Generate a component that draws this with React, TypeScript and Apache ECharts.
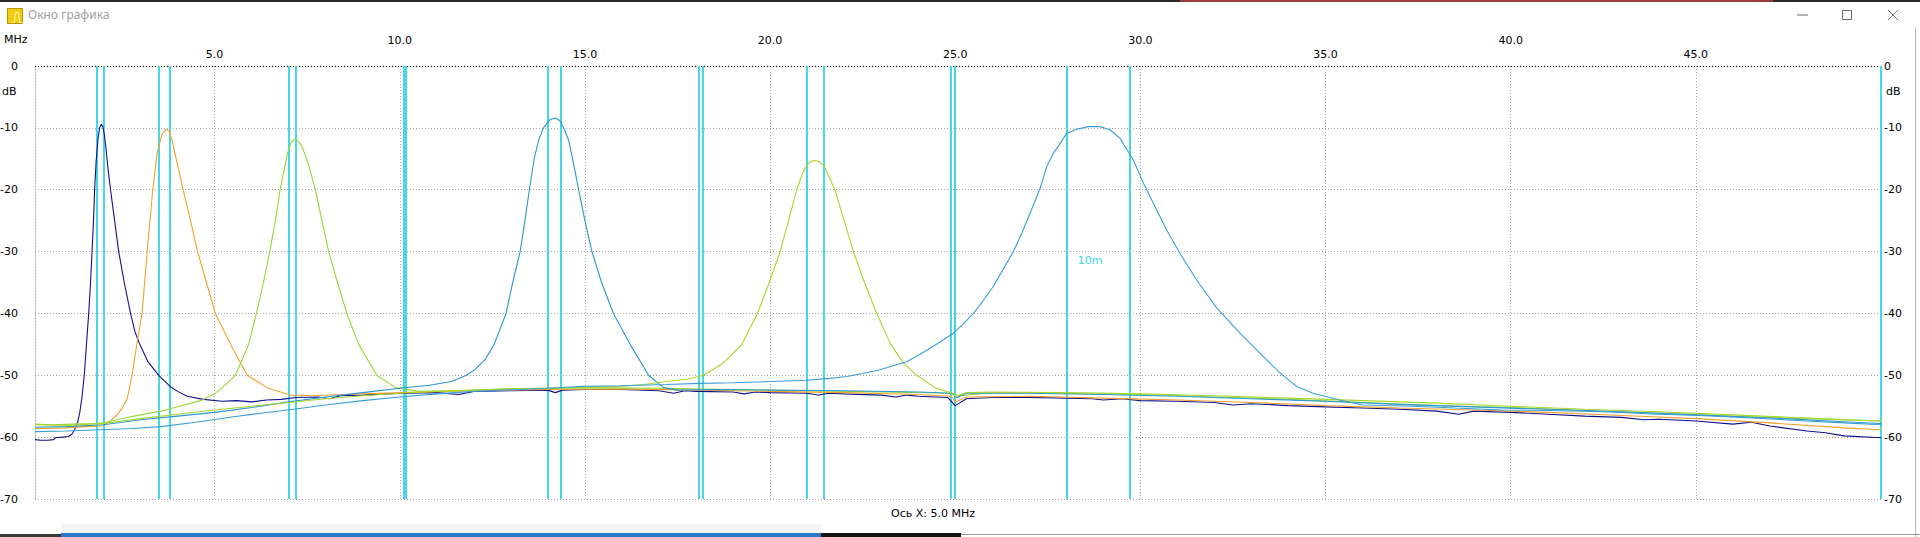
import React, { useEffect, useRef } from "react";
import * as echarts from "echarts";

const X_MIN = 0.15;
const X_MAX = 50;
const Y_MIN = -70;
const Y_MAX = 0;
const Y_STEP = 10;

const xGridValues = [5, 10, 15, 20, 25, 30, 35, 40, 45];
const xTickLabels = ["5.0", "10.0", "15.0", "20.0", "25.0", "30.0", "35.0", "40.0", "45.0"];

// amateur band edges (MHz)
const bandEdges = [1.81, 2.0, 3.5, 3.8, 7.0, 7.2, 10.1, 10.15, 14.0, 14.35, 18.068, 18.168, 21.0, 21.45, 24.89, 24.99, 28.0, 29.7, 50];
const bandLabelText = "10m";
const bandLabelPos = [28.64, -31.5];

const curve160 = [
  [0.15, -60.4], [0.3, -60.5], [0.5, -60.5], [0.65, -60.4], [0.7, -60.1], [0.9, -60.0], [1.05, -59.9], [1.15, -59.5],
  [1.22, -58.8], [1.3, -57.6], [1.36, -56], [1.42, -53.5], [1.48, -50], [1.54, -45], [1.6, -40], [1.65, -35],
  [1.69, -30], [1.73, -25], [1.76, -20], [1.8, -15.5], [1.85, -11.8], [1.9, -9.9], [1.94, -9.4], [1.98, -9.8],
  [2.02, -11], [2.07, -13.5], [2.12, -16.5], [2.19, -20], [2.3, -25], [2.41, -30], [2.56, -35], [2.73, -40],
  [2.85, -43], [2.98, -45], [3.2, -47.8], [3.49, -50], [3.8, -51.8], [4.0, -52.6], [4.26, -53.4], [4.7, -53.9],
  [5.2, -54.2], [5.6, -54.1], [6.0, -54.3], [6.4, -54.0], [6.8, -53.9], [7.2, -53.6], [7.8, -53.5], [8.1, -53.8],
  [8.4, -53.3], [9.0, -53.2], [9.6, -53.0], [10.2, -52.9], [11, -52.8], [11.6, -53.1], [12, -52.6], [13, -52.5],
  [14, -52.4], [14.2, -52.8], [14.4, -52.4], [15, -52.3], [16, -52.3], [17, -52.5], [17.4, -52.9], [17.7, -52.5],
  [18, -52.6], [19, -52.7], [19.3, -53.0], [19.6, -52.7], [20, -52.8], [21, -52.9], [21.3, -53.2], [21.6, -52.9],
  [22, -53.0], [23, -53.2], [23.4, -53.5], [23.7, -53.2], [24, -53.4], [24.8, -53.6], [25.0, -54.9], [25.3, -53.8],
  [26, -53.6], [27, -53.6], [28, -53.7], [28.7, -53.8], [29, -54.0], [29.5, -53.8], [30, -54.1], [31, -54.2],
  [32, -54.4], [32.5, -54.8], [33, -54.6], [34, -54.9], [35, -55.1], [36, -55.3], [37, -55.5], [38, -55.8],
  [38.6, -56.3], [39, -55.8], [40, -56.0], [41, -56.3], [42, -56.6], [43, -56.8], [43.6, -57.2], [44, -57.1],
  [45, -57.4], [46, -57.9], [46.5, -57.6], [47, -58.2], [48, -59.0], [48.5, -59.3], [49, -59.8], [50, -60.1],
];

const curve80 = [
  [0.15, -58.6], [0.5, -58.6], [1.0, -58.5], [1.5, -58.3], [1.9, -58.2], [2.05, -57.9], [2.2, -57.3], [2.35, -56.5],
  [2.5, -55.3], [2.64, -53.8], [2.77, -50], [2.9, -45], [3.04, -40], [3.18, -30], [3.33, -20], [3.45, -14],
  [3.58, -11], [3.7, -10.2], [3.78, -10.6], [3.85, -12], [4.0, -16], [4.15, -20], [4.35, -25], [4.54, -30],
  [4.78, -35], [5.02, -40], [5.43, -45], [5.88, -50], [6.42, -52], [7.04, -53.2], [7.6, -53.3], [8.5, -53.1],
  [10, -52.8], [12, -52.5], [14, -52.3], [16, -52.2], [18, -52.4], [20, -52.6], [22, -52.8], [24, -53.1],
  [24.9, -53.4], [25.0, -54.3], [25.3, -53.5], [27, -53.4], [29, -53.7], [31, -54.0], [33, -54.4], [35, -54.9],
  [37, -55.3], [39, -55.6], [41, -56.0], [43, -56.5], [45, -57.0], [47, -57.7], [49, -58.5], [50, -58.8],
];

const curve40 = [
  [0.15, -57.9], [0.6, -58.0], [1.2, -57.9], [1.8, -57.8], [2.0, -57.7], [2.5, -57.0], [3.0, -56.4], [3.54, -55.8],
  [4.0, -55.1], [4.62, -54.1], [5.0, -53.0], [5.3, -51.5], [5.56, -50], [5.92, -45], [6.13, -40], [6.32, -35],
  [6.49, -30], [6.64, -25], [6.77, -20], [6.97, -14], [7.08, -12.2], [7.18, -11.8], [7.28, -12.3], [7.36, -13],
  [7.54, -16], [7.72, -20], [7.9, -25], [8.08, -30], [8.32, -35], [8.57, -40], [8.89, -45], [9.38, -50],
  [9.88, -52], [10.5, -52.6], [11.5, -52.5], [13, -52.2], [15, -52.0], [17, -52.1], [19, -52.3], [21, -52.5],
  [23, -52.7], [24.9, -52.9], [25.1, -53.3], [26, -52.8], [28, -52.9], [30, -53.1], [32, -53.5], [34, -53.9],
  [36, -54.4], [38, -54.9], [40, -55.2], [42, -55.7], [44, -56.1], [46, -56.6], [48, -57.0], [50, -57.4],
];

const curve20 = [
  [0.15, -58.4], [1.0, -58.3], [2.0, -58.0], [3.0, -57.2], [4.0, -56.6], [5.0, -56.0], [6.0, -55.2], [7.0, -54.3],
  [8.0, -53.5], [9.0, -52.8], [10.0, -52.1], [10.8, -51.6], [11.4, -51.0], [11.8, -50], [12.04, -49], [12.3, -47.5],
  [12.55, -45], [12.87, -40], [13.05, -35], [13.25, -30], [13.38, -25], [13.5, -20], [13.63, -15], [13.75, -12],
  [13.88, -10], [14.05, -8.7], [14.2, -8.4], [14.32, -8.8], [14.45, -10.3], [14.56, -12], [14.7, -16], [14.83, -20],
  [15.0, -25], [15.19, -30], [15.45, -35], [15.77, -40], [16.22, -45], [16.72, -50], [17.12, -52], [17.5, -52.4],
  [18.5, -52.3], [20, -52.4], [22, -52.5], [24, -52.7], [24.9, -52.9], [25.05, -53.6], [25.3, -52.9], [27, -52.9],
  [29, -53.1], [31, -53.4], [33, -53.8], [35, -54.2], [37, -54.7], [39, -55.1], [41, -55.5], [43, -55.9],
  [45, -56.4], [47, -56.9], [49, -57.5], [50, -57.8],
];

const curve15 = [
  [0.15, -58.0], [1.0, -58.1], [2.0, -57.8], [3.0, -57.0], [4.0, -56.3], [5.0, -55.6], [6.0, -55.0], [7.0, -54.4],
  [8.0, -53.8], [9.0, -53.3], [10.0, -52.9], [11, -52.6], [12, -52.4], [13, -52.2], [14, -52.1], [15, -52.0],
  [15.9, -51.8], [16.6, -51.5], [17.2, -51.0], [17.8, -50.6], [18.2, -50], [18.74, -48], [19.24, -45], [19.66, -40],
  [19.98, -35], [20.27, -30], [20.5, -25], [20.72, -20], [20.9, -17], [21.05, -15.6], [21.17, -15.3], [21.3, -15.4],
  [21.44, -16], [21.6, -18], [21.75, -20], [22.0, -25], [22.25, -30], [22.55, -35], [22.88, -40], [23.26, -45],
  [23.6, -48], [23.96, -50], [24.45, -52], [24.86, -52.8], [25.02, -53.4], [25.3, -52.8], [26, -52.7], [28, -52.8],
  [30, -53.0], [32, -53.3], [34, -53.7], [36, -54.1], [38, -54.5], [40, -55.0], [42, -55.5], [44, -55.9],
  [46, -56.4], [48, -56.9], [50, -57.4],
];

const curve10 = [
  [0.15, -59.1], [1.0, -59.0], [1.92, -58.8], [2.8, -58.6], [3.54, -58.3], [4.5, -57.6], [5.51, -56.7], [6.3, -56.1],
  [7.13, -55.5], [8.0, -54.8], [9.0, -54.1], [10.0, -53.5], [11, -53.0], [12, -52.6], [13.16, -52.3], [14, -52.1],
  [14.96, -51.8], [16, -51.7], [17.2, -51.5], [18.11, -51.3], [19.01, -51.2], [20, -51.0], [21, -50.8], [21.62, -50.5],
  [22.07, -50.2], [22.5, -49.7], [22.97, -49.1], [23.3, -48.5], [23.69, -47.8], [24.05, -46.6], [24.41, -45.3], [24.95, -43.2],
  [25.2, -41.8], [25.49, -40], [25.75, -38], [26.03, -35.6], [26.3, -32.8], [26.57, -30], [26.8, -27], [27.02, -23.8],
  [27.29, -19.8], [27.47, -16.3], [27.64, -14.2], [27.78, -13], [28.01, -10.9], [28.3, -10.2], [28.6, -9.8], [28.9, -9.8],
  [29.18, -10.3], [29.45, -11.7], [29.81, -15.2], [30.08, -18.9], [30.35, -22.2], [30.71, -26.5], [31.07, -30.3], [31.52, -34.6],
  [32.06, -39.1], [32.69, -43.2], [33.32, -47], [33.77, -49.6], [34.22, -51.8], [34.66, -52.9], [35.38, -54], [36.01, -54.8],
  [37.36, -55], [38.5, -55.3], [39.78, -55.6], [41, -55.7], [42.5, -55.9], [44, -56.3], [45.1, -56.5], [46.5, -56.9],
  [48, -57.4], [49, -57.7], [50, -58.0],
];

const curves = [curve160, curve80, curve40, curve20, curve15, curve10];
const curveNames = ["160m", "80m", "40m", "20m", "15m", "10m"];
const curveColors = ["#10108f", "#f0a22c", "#9ad636", "#2b96d2", "#a6d82a", "#3a9fd8"];

const FONT = "DejaVu Sans";
const GRID_COLOR = "#a8a8a8";
const GRID_DASH = [1, 2];
const BAND_COLOR = "#46d8e8";

export default function App() {
  const ref = useRef<HTMLDivElement>(null);

  useEffect(() => {
    if (!ref.current) return;
    const chart = echarts.init(ref.current, null, { renderer: "svg" });

    const curveSeries = curves.map((c, i) => ({
      name: curveNames[i],
      type: "line",
      data: c,
      symbol: "none",
      showSymbol: false,
      lineStyle: { color: curveColors[i], width: 1.1 },
      itemStyle: { color: curveColors[i] },
      z: 5,
      silent: true,
      ...(i === 5
        ? {
            markPoint: {
              silent: true,
              symbol: "rect",
              symbolSize: 1,
              itemStyle: { color: "transparent" },
              data: [
                {
                  coord: bandLabelPos,
                  label: {
                    show: true,
                    position: "inside",
                    formatter: bandLabelText,
                    color: "#3ad4e6",
                    fontSize: 11,
                    fontFamily: FONT,
                  },
                },
              ],
            },
          }
        : {}),
    }));

    const gridSeries = {
      name: "grid",
      type: "line",
      data: [],
      z: 1,
      silent: true,
      markLine: {
        silent: true,
        symbol: "none",
        data: [
          ...xGridValues.map((v, i) => ({
            xAxis: v,
            lineStyle: { color: GRID_COLOR, type: GRID_DASH, width: 1 },
            label: {
              show: true,
              position: "end",
              formatter: xTickLabels[i],
              distance: i % 2 === 0 ? 6 : 20,
              color: "#000",
              fontSize: 11,
              fontFamily: FONT,
            },
          })),
          {
            yAxis: 0,
            lineStyle: { color: "#000", type: GRID_DASH, width: 1 },
            label: { show: false },
          },
        ],
      },
    };

    const bandSeries = {
      name: "bands",
      type: "line",
      data: [],
      z: 2,
      silent: true,
      markLine: {
        silent: true,
        symbol: "none",
        data: bandEdges.map((v) => ({
          xAxis: v,
          lineStyle: { color: BAND_COLOR, type: "solid", width: 2 },
          label: { show: false },
        })),
      },
    };

    const textStyle = { fill: "#000", font: `11px "${FONT}"` };

    chart.setOption({
      animation: false,
      backgroundColor: "#ffffff",
      grid: { left: 35, right: 39, top: 66, bottom: 38, containLabel: false, outerBoundsMode: "none" },
      xAxis: {
        type: "value",
        min: X_MIN,
        max: X_MAX,
        axisLine: { show: true, lineStyle: { color: GRID_COLOR, type: GRID_DASH } },
        axisTick: { show: false },
        axisLabel: { show: false },
        splitLine: { show: false },
      },
      yAxis: [
        {
          type: "value",
          min: Y_MIN,
          max: Y_MAX,
          interval: Y_STEP,
          position: "left",
          axisLine: { show: true, lineStyle: { color: GRID_COLOR, type: GRID_DASH } },
          axisTick: { show: false },
          axisLabel: { margin: 17, color: "#000", fontSize: 11, fontFamily: FONT },
          splitLine: { show: true, lineStyle: { color: GRID_COLOR, type: GRID_DASH, width: 1 } },
        },
        {
          type: "value",
          min: Y_MIN,
          max: Y_MAX,
          interval: Y_STEP,
          position: "right",
          axisLine: { show: false },
          axisTick: { show: false },
          axisLabel: { margin: 3, color: "#000", fontSize: 11, fontFamily: FONT },
          splitLine: { show: false },
        },
      ],
      series: [gridSeries, bandSeries, ...curveSeries],
      graphic: [
        // window top border
        { type: "rect", left: 0, top: 0, shape: { width: 1920, height: 2 }, style: { fill: "#2a2a2a" }, silent: true },
        { type: "rect", left: 1180, top: 0, shape: { width: 593, height: 2 }, style: { fill: "#9b3a3a" }, silent: true },
        // icon
        { type: "rect", left: 7, top: 8, shape: { width: 15, height: 15 }, style: { fill: "#f2cc10", stroke: "#b89400", lineWidth: 1 }, silent: true },
        {
          type: "polyline",
          left: 9,
          top: 10,
          shape: { points: [[0, 11], [3, 11], [4, 1], [7, 1], [8, 11], [11, 11]] },
          style: { stroke: "#fff8c0", lineWidth: 1, fill: "none" },
          silent: true,
        },
        { type: "text", left: 28, top: 8, style: { text: "Окно графика", fill: "#a0a0a0", font: '12px "Noto Sans"' }, silent: true },
        // window controls
        { type: "line", shape: { x1: 1797, y1: 15, x2: 1808, y2: 15 }, style: { stroke: "#666", lineWidth: 1 }, silent: true },
        { type: "rect", shape: { x: 1842.5, y: 10.5, width: 9, height: 9 }, style: { stroke: "#666", fill: "none", lineWidth: 1 }, silent: true },
        { type: "line", shape: { x1: 1888, y1: 10, x2: 1898, y2: 20 }, style: { stroke: "#777", lineWidth: 1 }, silent: true },
        { type: "line", shape: { x1: 1898, y1: 10, x2: 1888, y2: 20 }, style: { stroke: "#777", lineWidth: 1 }, silent: true },
        // right window border
        { type: "rect", left: 1915, top: 28, shape: { width: 1, height: 509 }, style: { fill: "#b4b4b4" }, silent: true },
        // axis unit captions
        { type: "text", left: 4, top: 34, style: { ...textStyle, text: "MHz" }, silent: true },
        { type: "text", left: 2, top: 86, style: { ...textStyle, text: "dB" }, silent: true },
        { type: "text", left: 1886, top: 86, style: { ...textStyle, text: "dB" }, silent: true },
        // bottom caption
        { type: "text", left: 891, top: 508, style: { ...textStyle, text: "Ось X: 5.0 MHz" }, silent: true },
        // bottom taskbar fragments
        { type: "rect", left: 61, top: 524, shape: { width: 760, height: 9 }, style: { fill: "#f4f4f4" }, silent: true },
        { type: "rect", left: 0, top: 534, shape: { width: 61, height: 3 }, style: { fill: "#3a3a3a" }, silent: true },
        { type: "rect", left: 61, top: 533, shape: { width: 760, height: 4 }, style: { fill: "#2b78c8" }, silent: true },
        { type: "rect", left: 821, top: 533, shape: { width: 140, height: 4 }, style: { fill: "#151515" }, silent: true },
        { type: "rect", left: 961, top: 534, shape: { width: 959, height: 1 }, style: { fill: "#9a9a9a" }, silent: true },
      ],
    });

    return () => chart.dispose();
  }, []);

  return (
    <div style={{ position: "fixed", left: 0, top: 0, width: 1920, height: 537, background: "#fff" }}>
      <div ref={ref} style={{ width: 1920, height: 537 }} />
    </div>
  );
}
